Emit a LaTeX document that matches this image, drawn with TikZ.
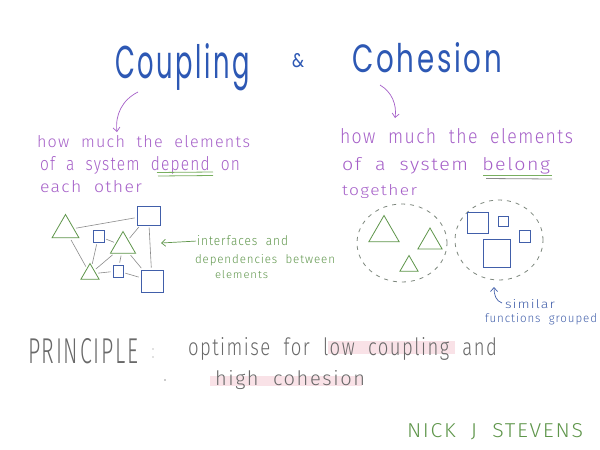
\documentclass[tikz,border=0pt]{standalone}
\usepackage{fontspec}
\setmainfont{Fira Sans Light}[LetterSpace=8, WordSpace=2]
\newfontfamily\titlefont{Poppins}[LetterSpace=10]
\usepackage{graphicx}
\usetikzlibrary{shapes.geometric,arrows.meta}
\definecolor{titleblue}{RGB}{45,88,180}
\definecolor{hwpurple}{RGB}{165,95,200}
\definecolor{hwgreen}{RGB}{95,150,75}
\definecolor{ulgreen}{RGB}{120,175,95}
\definecolor{linegrey}{RGB}{140,140,140}
\definecolor{shapeblue}{RGB}{65,95,170}
\definecolor{textgrey}{RGB}{105,105,105}
\definecolor{hlpink}{RGB}{249,226,231}
\definecolor{dashgrey}{RGB}{125,135,125}
\newcommand\fitbox[3]{\resizebox{#1pt}{#2pt}{#3}}
\begin{document}
\begin{tikzpicture}[x=1pt,y=-1pt,
  txt/.style={inner sep=0pt, outer sep=0pt, anchor=base west},
  tri/.style={regular polygon, regular polygon sides=3, draw=hwgreen, line width=0.8pt, inner sep=0pt},
  sq/.style={rectangle, draw=shapeblue, line width=0.8pt, inner sep=0pt},
  link/.style={draw=linegrey, line width=0.6pt, shorten >=2pt, shorten <=2pt},
  grp/.style={ellipse, draw=dashgrey, line width=0.8pt, dash pattern=on 4pt off 5pt, inner sep=0pt},
  barb/.style={-{Straight Barb[length=4pt,width=7pt]}, line width=0.7pt}
]
\useasboundingbox (0,0) rectangle (600,450);
\fill[white] (0,0) rectangle (600,450);

% title
\node[txt, text=titleblue] (t1) at (115,78) {\fitbox{135}{35}{\titlefont Coupling}};
\node[txt, text=titleblue] (amp) at (292,67) {\fitbox{12}{14}{\titlefont\&}};
\node[txt, text=titleblue] (t2) at (352,72) {\fitbox{150}{30}{\titlefont Cohesion}};

% purple arrows
\coordinate (pa1) at (138,92);
\coordinate (pa2) at (117,132);
\draw[hwpurple, barb] (pa1) .. controls (122,100) and (115,115) .. (pa2);
\coordinate (pb1) at (380,85);
\coordinate (pb2) at (395,118);
\draw[hwpurple, barb] (pb1) .. controls (392,92) and (397,105) .. (pb2);

% left definitions
\node[txt, text=hwpurple] (l1) at (37,147) {\fitbox{213}{12}{how much the elements}};
\node[txt, text=hwpurple] (l2) at (40,170) {\fitbox{200}{14}{of a system depend on}};
\node[txt, text=hwpurple] (l3) at (40,192) {\fitbox{102}{12}{each other}};
\draw[ulgreen, line width=0.8pt] (157,172.5) -- (213,172);
\draw[ulgreen, line width=0.8pt] (158,176) -- (213,175.5);

% right definitions
\node[txt, text=hwpurple] (r1) at (340,143) {\fitbox{233}{15}{how much the elements}};
\node[txt, text=hwpurple] (r2) at (342,170) {\fitbox{208}{13}{of a system belong}};
\node[txt, text=hwpurple] (r3) at (342,195) {\fitbox{75}{11}{together}};
\draw[ulgreen, line width=0.8pt] (483,175) -- (552,175);
\draw[linegrey, line width=0.8pt] (486,178.5) -- (552,179);

% left diagram
\node[tri, minimum size=31pt] (T1) at (65.5,230) {};
\node[tri, minimum size=29pt] (T2) at (123,246) {};
\node[tri, minimum size=21pt] (T3) at (90,274) {};
\node[sq, minimum width=23pt, minimum height=19pt] (S1) at (148.5,215.5) {};
\node[sq, minimum width=11pt, minimum height=12pt] (S2) at (98.5,236) {};
\node[sq, minimum width=10pt, minimum height=12pt] (S3) at (118,271) {};
\node[sq, minimum width=22pt, minimum height=22pt] (S4) at (152,281) {};
\draw[link] (T1) -- (S1);
\draw[link] (T1) -- (T3);
\draw[link] (S2) -- (T2);
\draw[link] (S2) -- (T3);
\draw[link] (T2) -- (S1);
\draw[link] (S1) -- (S4);
\draw[link] (T3) -- (T2);
\draw[link] (T3) -- (S3);
\draw[link] (S3) -- (S4);
\draw[link] (T2) -- (S4);
\draw[link] (T2) -- (S3);

% green annotation
\node[txt, text=hwgreen] (g1) at (197,245) {\fitbox{91}{10}{interfaces and}};
\node[txt, text=hwgreen] (g2) at (195,263) {\fitbox{140}{9}{dependencies between}};
\node[txt, text=hwgreen] (g3) at (215,278) {\fitbox{53}{8}{elements}};
\coordinate (gtip) at (161,243);
\draw[hwgreen, barb] ([xshift=-1pt,yshift=-1pt]g1.west) -- (gtip);

% right diagram
\node[grp, minimum width=90pt, minimum height=78pt] (G1) at (402,243) {};
\node[grp, minimum width=88pt, minimum height=80pt] (G2) at (499,240) {};
\node[tri, minimum size=35pt] (Ta) at (384,233) {};
\node[tri, minimum size=28pt] (Tb) at (430,242) {};
\node[tri, minimum size=21pt] (Tc) at (409,266) {};
\node[sq, minimum width=21pt, minimum height=21pt] (R1) at (477.5,222.5) {};
\node[sq, minimum width=10pt, minimum height=10pt] (R2) at (503,221) {};
\node[sq, minimum width=11pt, minimum height=12pt] (R3) at (524.5,236) {};
\node[sq, minimum width=27pt, minimum height=28pt] (R4) at (496.5,253) {};

% blue annotation
\node[txt, text=shapeblue] (b1) at (505,308) {\fitbox{50}{9}{similar}};
\node[txt, text=shapeblue] (b2) at (485,322) {\fitbox{112}{9}{functions grouped}};
\coordinate (bb1) at (502,303);
\coordinate (bb2) at (494,287);
\draw[shapeblue, barb] (bb1) .. controls (496,301) and (494,295) .. (bb2);

% principle
\fill[hlpink] (328,341) rectangle (455,354);
\fill[hlpink] (210,376) rectangle (362,386);
\node[txt, text=textgrey] (p0) at (28,363) {\fitbox{110}{25}{PRINCIPLE}};
\fill[textgrey!40] (153,349) circle (0.8);
\fill[textgrey!40] (153,357) circle (0.8);
\fill[textgrey!70] (165,380) circle (0.9);
\node[txt, text=textgrey] (p1) at (188,355) {\fitbox{309}{18}{optimise for low coupling and}};
\node[txt, text=textgrey] (p2) at (215,385) {\fitbox{150}{15}{high cohesion}};

% author
\node[txt, text=hwgreen] (auth) at (407,437) {\fitbox{176}{14}{NICK J STEVENS}};
\end{tikzpicture}
\end{document}
